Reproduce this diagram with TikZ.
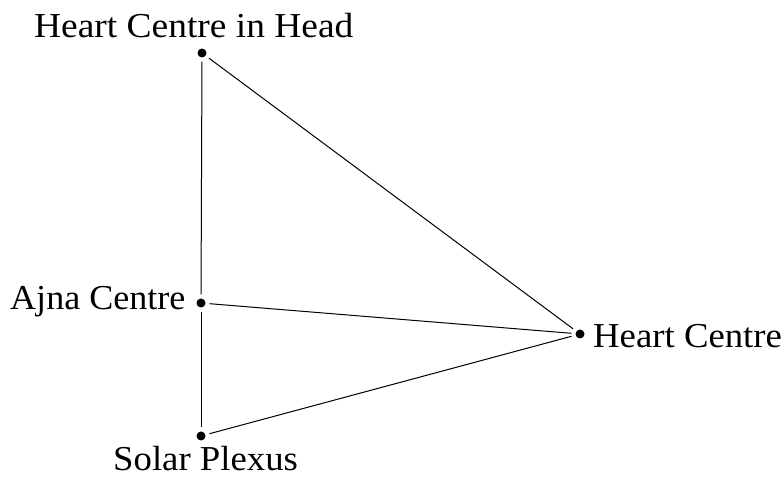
\documentclass[tikz,border=0pt]{standalone}
\usepackage{fontspec}
\setmainfont{Liberation Serif}
\begin{document}
\begin{tikzpicture}[x=1pt,y=1pt,
  dot/.style={circle,fill=black,inner sep=0pt,minimum size=9pt},
  lbl/.style={inner sep=0pt,anchor=base west,font=\fontsize{35}{40}\selectfont},
  conn/.style={line width=1pt,shorten <=4pt,shorten >=4pt}]
\useasboundingbox (0,0) rectangle (784,478);
\node[dot] (head) at (202,425) {};
\node[dot] (ajna) at (201,175) {};
\node[dot] (heart) at (580,144) {};
\node[dot] (solar) at (201,42) {};
\node[lbl] (lhead) at (34,440) {\scalebox{1.07}[1]{Heart Centre in Head}};
\node[lbl] (lajna) at (10,168) {\scalebox{1.03}[1]{Ajna Centre}};
\node[lbl] (lheart) at (593,130) {\scalebox{1.05}[1]{Heart Centre}};
\node[lbl] (lsolar) at (113,7) {\smash{\scalebox{1.05}[1]{Solar Plexus}}};
\draw[conn] (head) -- (ajna);
\draw[conn] (ajna) -- (solar);
\draw[conn] (head) -- (heart);
\draw[conn] (ajna) -- (heart);
\draw[conn] (solar) -- (heart);
\end{tikzpicture}
\end{document}
